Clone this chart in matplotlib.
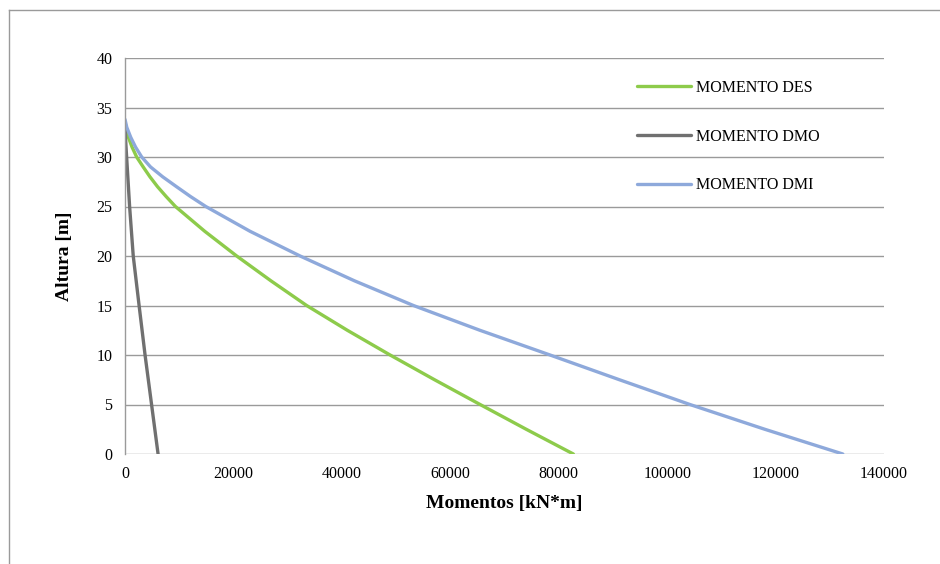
import matplotlib
matplotlib.use("Agg")
import matplotlib.pyplot as plt
from matplotlib.lines import Line2D

# Heights [m] and moments [kN*m]
altura_des = [33.5, 33.0, 32.0, 31.0, 30.0, 29.0, 28.0, 27.0, 26.0, 25.0, 22.5, 20.0,
              17.5, 15.0, 12.5, 10.0, 7.5, 5.0, 2.5, 0.0]
momento_des = [0, 200, 620, 1300, 2150, 3350, 4600, 6000, 7600, 9300, 14700, 20600,
               26900, 33500, 41000, 48900, 57100, 65500, 74000, 82700]

altura_dmo = [33.0, 32.0, 31.0, 30.0, 25.0, 20.0, 15.0, 10.0, 5.0, 0.0]
momento_dmo = [0, 90, 190, 300, 850, 1520, 2600, 3700, 4900, 6100]

altura_dmi = [33.8, 33.0, 32.0, 31.0, 30.0, 29.0, 28.0, 27.0, 26.0, 25.0, 22.5, 20.0,
              17.5, 15.0, 12.5, 10.0, 7.5, 5.0, 2.5, 0.0]
momento_dmi = [0, 330, 1050, 1950, 3080, 4700, 6950, 9500, 12100, 14900, 23050, 32300,
               42300, 53200, 65450, 78400, 91200, 104200, 118000, 132400]

x_ticks = [0, 20000, 40000, 60000, 80000, 100000, 120000, 140000]
y_ticks = [0, 5, 10, 15, 20, 25, 30, 35, 40]

plt.rcParams['font.family'] = ['Liberation Serif', 'DejaVu Serif']

fig = plt.figure(figsize=(9.4, 5.64), dpi=100)
ax = fig.add_axes([125/940, 1-454/564, (884-125)/940, (454-58)/564])

ax.plot(momento_des, altura_des, color='#8DCB4B', lw=2.4, label='MOMENTO DES',
        solid_capstyle='round', solid_joinstyle='round')
ax.plot(momento_dmo, altura_dmo, color='#707070', lw=2.4, label='MOMENTO DMO',
        solid_capstyle='round', solid_joinstyle='round')
ax.plot(momento_dmi, altura_dmi, color='#8EA9DB', lw=2.4, label='MOMENTO DMI',
        solid_capstyle='round', solid_joinstyle='round')

ax.set_xlim(0, 140000)
ax.set_ylim(0, 40)
ax.set_xticks(x_ticks)
ax.set_yticks(y_ticks)
ax.set_xticklabels([str(v) for v in x_ticks])
ax.set_yticklabels([str(v) for v in y_ticks])
ax.tick_params(axis='both', length=0, labelsize=11.5)
ax.tick_params(axis='y', pad=9)
ax.tick_params(axis='x', pad=9)
ax.grid(axis='y', color='#9A9A9A', lw=1.0)
ax.set_axisbelow(True)
for s in ['top', 'right', 'bottom']:
    ax.spines[s].set_visible(False)
ax.spines['left'].set_color('#9A9A9A')
ax.spines['left'].set_linewidth(1.0)

ax.set_xlabel('Momentos [kN*m]', fontsize=14, fontweight='bold', labelpad=9)
ax.set_ylabel('Altura [m]', fontsize=14, fontweight='bold', labelpad=17)

leg = ax.legend(loc='upper left', bbox_to_anchor=((637-125)/759, (454-80)/396),
                frameon=False, fontsize=11.5, labelspacing=2.05, handlelength=3.4,
                handletextpad=0.3, borderpad=0, borderaxespad=0)

# outer frame (top and left visible)
fig.add_artist(Line2D([8.5/940, 8.5/940], [0, 1-10/564], color='#9A9A9A', lw=1.0, transform=fig.transFigure))
fig.add_artist(Line2D([8.5/940, 1], [1-10/564, 1-10/564], color='#9A9A9A', lw=1.0, transform=fig.transFigure))

fig.savefig('out.png', dpi=100, facecolor='white')
